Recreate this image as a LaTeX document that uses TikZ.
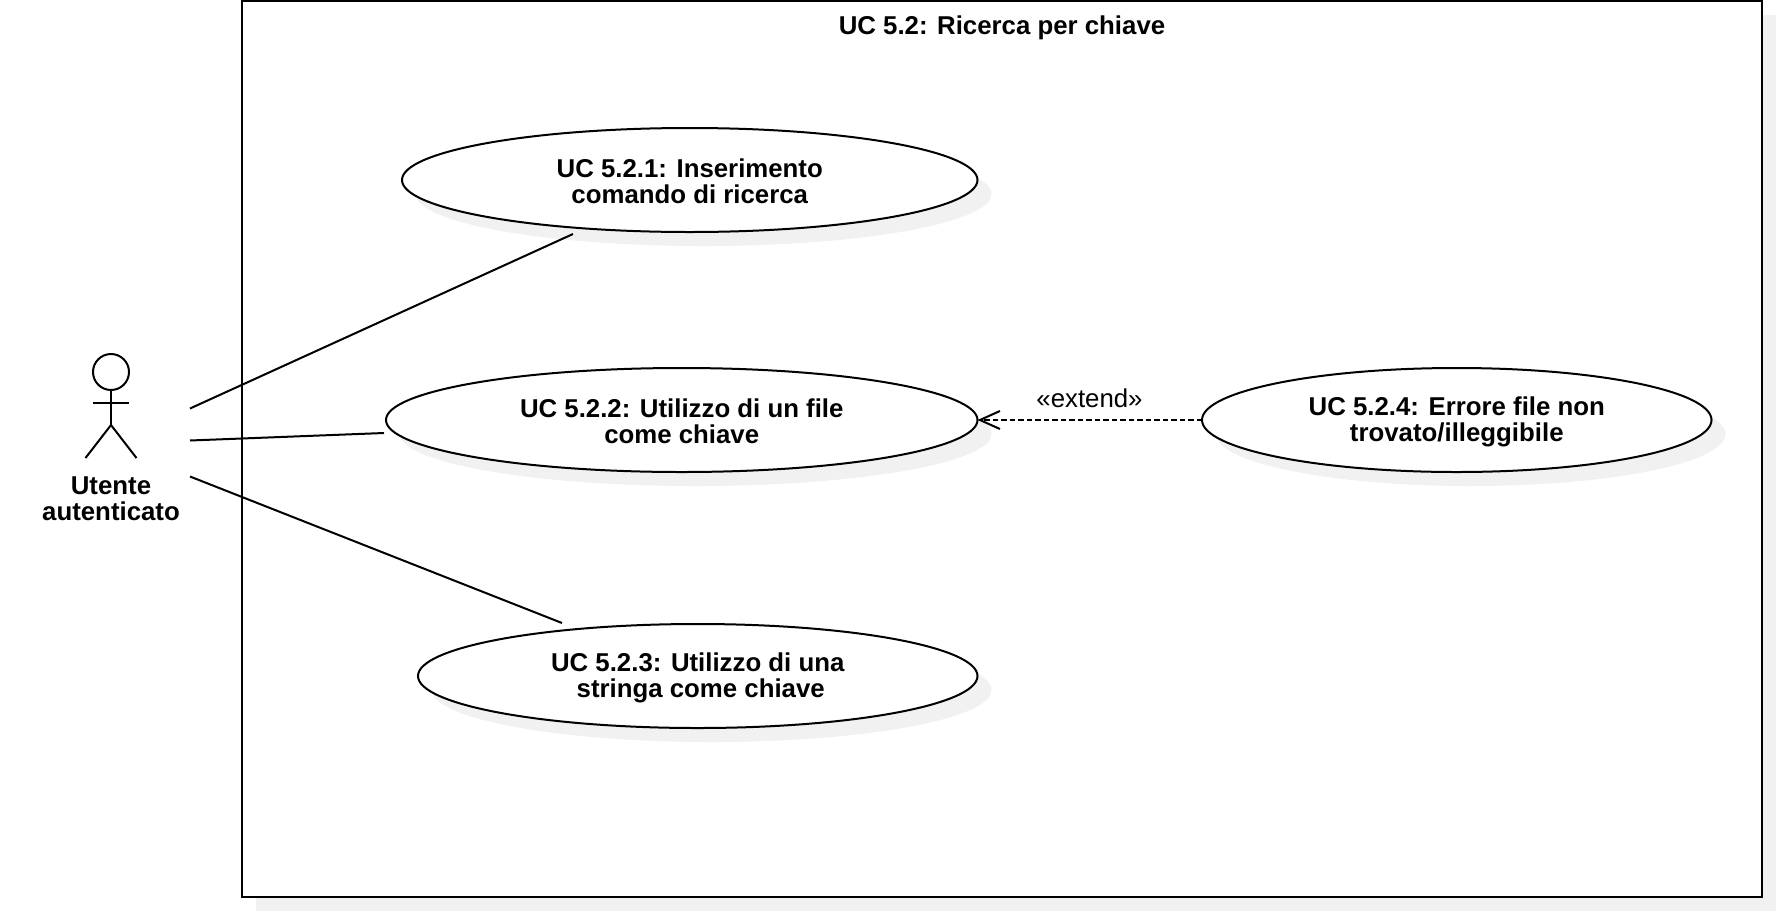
\documentclass[tikz,border=0pt]{standalone}
\usepackage{fontspec}
\setmainfont{Liberation Sans}
\usetikzlibrary{shapes.geometric,arrows.meta}
\definecolor{shadowgrey}{HTML}{F1F1F1}
\tikzset{
  lw/.style={line width=2pt,draw=black,line cap=butt},
  ucase/.style={ellipse,lw,fill=white,inner sep=0pt,outer sep=0pt},
  ucshadow/.style={ellipse,fill=shadowgrey,draw=none,inner sep=0pt,outer sep=0pt},
  assoc/.style={lw},
  extendline/.style={lw,dash pattern=on 5.5pt off 3pt,-{Straight Barb[length=20pt,width=18pt,line width=2pt]}},
  boldlabel/.style={font=\fontsize{25.8pt}{26pt}\selectfont\bfseries,align=center,inner sep=0pt},
  plainlabel/.style={font=\fontsize{25.8pt}{26pt}\selectfont,inner sep=0pt}
}
\newcommand{\ucnode}[6]{% name, left, right, top, bottom, text
  \pgfmathsetlengthmacro{\ucw}{#3-#2}
  \pgfmathsetlengthmacro{\uch}{#5-#4}
  \node[ucshadow,minimum width=\ucw,minimum height=\uch] (#1s) at ({(#2+#3)/2+14},{(#4+#5)/2+14}) {};
  \node[ucase,minimum width=\ucw,minimum height=\uch] (#1) at ({(#2+#3)/2},{(#4+#5)/2}) {};
  \node[boldlabel] (#1t) at ({(#2+#3)/2},{(#4+#5)/2+1.5}) {#6};
}
\begin{document}
\begin{tikzpicture}[x=1pt,y=-1pt]
\useasboundingbox (0,0) rectangle (1776,911);
\fill[white] (0,0) rectangle (1776,911);
% frame
\fill[shadowgrey] (256,15) rectangle (1776,911);
\node[lw,fill=white,inner sep=0pt,outer sep=0pt,minimum width=1520pt,minimum height=895.5pt] (frame) at (1002,448.75) {};
\node[boldlabel] (title) at (1002,27.5) {UC 5.2: Ricerca per chiave};
% use cases
\ucnode{uca}{402}{977.5}{128}{232}{UC 5.2.1: Inserimento\\comando di ricerca}{}
\ucnode{ucb}{386}{977.5}{368}{472}{UC 5.2.2: Utilizzo di un file\\come chiave}{}
\ucnode{ucc}{418}{977.5}{624}{728}{UC 5.2.3: Utilizzo di una\\\hspace*{6pt}stringa come chiave}{}
\ucnode{ucd}{1202}{1711.5}{368}{472}{UC 5.2.4: Errore file non\\trovato/illeggibile}{}
% actor
\node[circle,lw,fill=white,inner sep=0pt,outer sep=0pt,minimum size=36pt] (head) at (111,372) {};
\coordinate (hip) at (111,425);
\coordinate (armL) at (93,402.5);
\coordinate (armR) at (129,402.5);
\coordinate (legL) at (85.5,458);
\coordinate (legR) at (136.5,458);
\draw[lw] (head.south) -- (hip);
\draw[lw] (armL) -- (armR);
\draw[lw,line join=miter] (legL) -- (hip) -- (legR);
\node[boldlabel] (actor) at (111,498.5) {Utente\\autenticato};
% associations
\coordinate (a1) at (190,408.5);
\coordinate (a2) at (190,440.5);
\coordinate (a3) at (190,476.5);
\coordinate (b1) at (573,234);
\coordinate (b2) at (384,433);
\coordinate (b3) at (562,623);
\draw[assoc] (a1) -- (b1);
\draw[assoc] (a2) -- (b2);
\draw[assoc] (a3) -- (b3);
% extend
\draw[extendline] (ucd.west) -- (ucb.east);
\node[plainlabel] (ext) at (1089.5,398) {«extend»};
\end{tikzpicture}
\end{document}
